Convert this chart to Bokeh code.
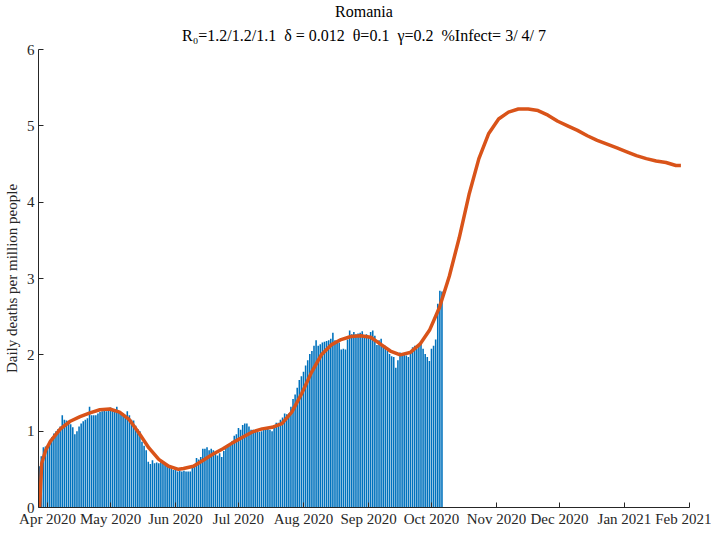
import pandas as pd
from bokeh.plotting import figure
from bokeh.models import Range1d, FixedTicker, Title, ColumnDataSource
from bokeh.embed import file_html
from bokeh.resources import INLINE

# ---------------- data ----------------
bar_start = "2020-03-28"
bar_values = [
    0.54, 0.67, 0.79, 0.80, 0.81, 0.87, 0.92, 0.97, 1.00, 1.03, 1.06, 1.21, 1.15, 1.14, 1.13, 1.09, 1.05,
    0.96, 1.00, 1.06, 1.10, 1.13, 1.15, 1.17, 1.32, 1.21, 1.21, 1.21, 1.23, 1.25, 1.26, 1.27, 1.26,
    1.30, 1.31, 1.27, 1.26, 1.32, 1.26, 1.25, 1.23, 1.21, 1.26, 1.21, 1.15, 1.14, 1.07, 1.03, 1.00,
    0.86, 0.81, 0.75, 0.60, 0.57, 0.62, 0.58, 0.59, 0.58, 0.60, 0.60, 0.58, 0.56, 0.54, 0.52, 0.49, 0.49,
    0.47, 0.48, 0.47, 0.48, 0.47, 0.47, 0.47, 0.53, 0.56, 0.65, 0.63, 0.66, 0.77, 0.77, 0.79, 0.75,
    0.77, 0.75, 0.73, 0.68, 0.71, 0.66, 0.74, 0.79, 0.83, 0.83, 0.87, 0.94, 0.96, 1.04, 1.02, 1.08, 1.10,
    1.10, 1.06, 1.02, 1.02, 1.00, 0.99, 0.99, 1.00, 1.02, 1.03, 1.04, 1.02, 1.00, 1.06, 1.11, 1.11,
    1.15, 1.18, 1.23, 1.22, 1.23, 1.32, 1.42, 1.48, 1.57, 1.67, 1.72, 1.78, 1.86, 1.93, 2.01, 2.05, 2.12,
    2.19, 2.12, 2.14, 2.16, 2.17, 2.18, 2.19, 2.21, 2.29, 2.19, 2.18, 2.16, 2.07, 2.08, 2.07, 2.20,
    2.32, 2.27, 2.30, 2.27, 2.28, 2.29, 2.31, 2.25, 2.27, 2.22, 2.30, 2.32, 2.25, 2.13, 2.19, 2.21, 2.11,
    2.12, 2.05, 2.01, 1.98, 1.97, 1.83, 1.93, 2.03, 2.01, 2.00, 1.99, 1.97, 2.05, 2.10, 2.12, 2.08,
    2.14, 2.16, 2.08, 2.01, 1.97, 1.92, 2.08, 2.12, 2.20, 2.67, 2.84, 2.83,
]

# model curve: days since 2020-03-28 and daily deaths per million
curve_days = [
    0.2, 1.2, 3.1, 5.4, 10.1, 14.8, 19.5, 24.2, 28.9, 33.6, 38.3, 43.0, 47.7, 52.3, 57.0, 61.7,
    66.4, 68.8, 73.5, 78.2, 82.9, 87.6, 92.3, 96.9, 101.6, 106.3, 111.0, 115.7, 120.4, 125.1,
    129.8, 134.5, 139.2, 143.9, 148.6, 153.3, 158.0, 162.7, 167.4, 172.1, 176.8, 181.5, 186.2,
    190.8, 195.5, 200.2, 204.9, 209.6, 214.3, 219.0, 223.7, 228.4, 233.1, 237.8, 242.5, 247.2,
    251.9, 256.6, 261.3, 266.0, 270.7, 275.4, 280.1, 284.7, 289.4, 294.1, 298.8, 303.5, 305.9,
]
curve_values = [
    0.00, 0.58, 0.75, 0.87, 1.03, 1.13, 1.19, 1.24, 1.28, 1.29, 1.25, 1.15, 0.97, 0.78, 0.63, 0.54,
    0.50, 0.51, 0.54, 0.62, 0.70, 0.77, 0.85, 0.92, 0.99, 1.03, 1.05, 1.10, 1.25, 1.49,
    1.77, 2.00, 2.13, 2.20, 2.24, 2.25, 2.23, 2.14, 2.05, 2.00, 2.03, 2.14, 2.33,
    2.62, 3.03, 3.53, 4.10, 4.57, 4.90, 5.09, 5.18, 5.22, 5.22, 5.20, 5.14, 5.06,
    5.00, 4.94, 4.87, 4.81, 4.76, 4.71, 4.66, 4.61, 4.57, 4.54, 4.52, 4.48, 4.48,
]

tick_dates = ["2020-04-01", "2020-05-01", "2020-06-01", "2020-07-01", "2020-08-01", "2020-09-01",
              "2020-10-01", "2020-11-01", "2020-12-01", "2021-01-01", "2021-02-01"]
tick_labels = ["Apr 2020", "May 2020", "Jun 2020", "Jul 2020", "Aug 2020", "Sep 2020",
               "Oct 2020", "Nov 2020", "Dec 2020", "Jan 2021", "Feb 2021"]
y_ticks = [0, 1, 2, 3, 4, 5, 6]

title_line1 = "Romania"
title_line2 = "R\u2080=1.2/1.2/1.1\u00a0\u00a0\u03b4 = 0.012\u00a0\u00a0\u03b8=0.1\u00a0\u00a0\u03b3=0.2\u00a0\u00a0%Infect= 3/ 4/ 7"
y_label = "Daily deaths per million people"

# ---------------- build ----------------
FONT = "Liberation Serif"
AX = "#262626"

bar_dates = pd.date_range(bar_start, periods=len(bar_values), freq="D")
curve_dates = pd.Timestamp(bar_start) + pd.to_timedelta(curve_days, unit="D")

bars = ColumnDataSource(dict(x=bar_dates, top=bar_values))
curve = ColumnDataSource(dict(x=curve_dates, y=curve_values))

p = figure(width=711, height=529, x_axis_type="datetime", output_backend="svg",
           toolbar_location=None, title=None,
           x_range=Range1d(pd.Timestamp("2020-03-27 16:00"), pd.Timestamp("2021-02-01")),
           y_range=Range1d(0, 6),
           min_border_left=30, min_border_right=22, min_border_top=42, min_border_bottom=0)

p.vbar(x="x", top="top", bottom=0, width=0.75 * 86400000, source=bars,
       fill_color="#0072BD", line_color=None)
p.line(x="x", y="y", source=curve, line_color="#D95319", line_width=3.5)

tick_ms = [pd.Timestamp(d).value / 1e6 for d in tick_dates]
p.xaxis.ticker = FixedTicker(ticks=tick_ms)
p.xaxis.major_label_overrides = {t: lab for t, lab in zip(tick_ms, tick_labels)}
p.yaxis.ticker = FixedTicker(ticks=y_ticks)
p.yaxis.axis_label = y_label
p.xaxis.axis_label = None

for ax in (p.xaxis[0], p.yaxis[0]):
    ax.axis_line_color = AX
    ax.axis_line_width = 1
    ax.major_tick_line_color = AX
    ax.major_tick_in = 5
    ax.major_tick_out = 0
    ax.minor_tick_line_color = None
    ax.major_label_text_font = FONT
    ax.major_label_text_font_size = "15px"
    ax.major_label_text_color = AX
    ax.axis_label_text_font = FONT
    ax.axis_label_text_font_size = "15px"
    ax.axis_label_text_font_style = "normal"
    ax.axis_label_text_color = AX
p.xaxis.major_label_standoff = 3
p.xaxis.axis_label_standoff = 0
p.yaxis.major_label_standoff = 4
p.yaxis.axis_label_standoff = 4

p.xgrid.grid_line_color = None
p.ygrid.grid_line_color = None
p.outline_line_color = None
p.background_fill_color = "white"
p.border_fill_color = "white"

p.add_layout(Title(text=title_line2, align="center", text_font=FONT, text_font_size="16px",
                   text_font_style="normal", text_color="black", standoff=11), "above")
p.add_layout(Title(text=title_line1, align="center", text_font=FONT, text_font_size="16px",
                   text_font_style="normal", text_color="black", standoff=0), "above")

open("out.html", "w").write(file_html(p, INLINE))
